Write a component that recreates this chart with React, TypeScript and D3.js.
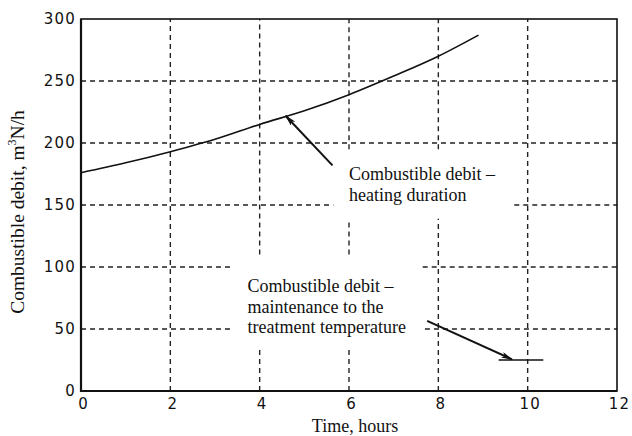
import React, { useEffect, useRef } from 'react';
import * as d3 from 'd3';

// heating duration curve (hours, m3N/h)
const heatHours = [0, 1, 2, 3, 4, 5, 6, 7, 8, 8.9];
const heatDebit = [176, 184, 193, 203, 215, 226, 239, 254, 270, 287];

// maintenance segment
const maintHours = [9.35, 10.35];
const maintDebit = [25, 25];

const xTicks = [0, 2, 4, 6, 8, 10, 12];
const yTicks = [0, 50, 100, 150, 200, 250, 300];

// gridline gaps (in data units) where annotation text sits
const vGaps: { [k: number]: [number, number][] } = {
  4: [[34, 110]],
  6: [[34, 110], [139, 195]],
  8: [[139, 195]],
};
const hGaps: { [k: number]: [number, number][] } = {
  150: [[5.65, 9.7]],
  100: [[3.4, 7.65]],
  50: [[3.4, 7.7]],
};

const notes = [
  { x: 6.0, y: 170, lines: ['Combustible debit –', 'heating duration'] },
  { x: 3.73, y: 80, lines: ['Combustible debit –', 'maintenance to the', 'treatment temperature'] },
];

const arrows = [
  { from: [5.63, 182], to: [4.58, 222] },
  { from: [7.75, 56.5], to: [9.65, 25.5] },
];

const W = 632;
const H = 436;
const margin = { top: 19, right: 15, bottom: 45, left: 81 };

export default function App() {
  const svgRef = useRef<SVGSVGElement>(null);

  useEffect(() => {
    if (!svgRef.current) return;
    const svg = d3.select(svgRef.current);
    svg.html('');

    const x = d3.scaleLinear().domain([0, 12]).range([margin.left, W - margin.right]);
    const y = d3.scaleLinear().domain([0, 300]).range([H - margin.bottom, margin.top]);

    const defs = svg.append('defs');
    defs.append('marker')
      .attr('id', 'arrowhead')
      .attr('viewBox', '0 0 12 6')
      .attr('refX', 11)
      .attr('refY', 3)
      .attr('markerWidth', 12)
      .attr('markerHeight', 6)
      .attr('markerUnits', 'userSpaceOnUse')
      .attr('orient', 'auto')
      .append('path')
      .attr('d', 'M0,0 L12,3 L0,6 L3,3 Z')
      .attr('fill', '#111');

    const grid = svg.append('g')
      .attr('stroke', '#222')
      .attr('stroke-width', 1.4)
      .attr('stroke-dasharray', '5,4');

    // split a [a,b] range by gaps
    const pieces = (a: number, b: number, gaps: [number, number][] = []) => {
      const out: [number, number][] = [];
      let start = a;
      gaps.forEach(([g0, g1]) => {
        out.push([start, g0]);
        start = g1;
      });
      out.push([start, b]);
      return out;
    };

    xTicks.slice(1, -1).forEach(t => {
      pieces(0, 300, vGaps[t]).forEach(([a, b]) => {
        grid.append('line')
          .attr('x1', x(t)).attr('x2', x(t))
          .attr('y1', y(a)).attr('y2', y(b));
      });
    });
    yTicks.slice(1, -1).forEach(t => {
      pieces(0, 12, hGaps[t]).forEach(([a, b]) => {
        grid.append('line')
          .attr('x1', x(a)).attr('x2', x(b))
          .attr('y1', y(t)).attr('y2', y(t));
      });
    });

    // frame
    svg.append('rect')
      .attr('x', x(0)).attr('y', y(300))
      .attr('width', x(12) - x(0)).attr('height', y(0) - y(300))
      .attr('fill', 'none').attr('stroke', '#111').attr('stroke-width', 1.6);
    svg.append('path')
      .attr('d', `M${x(0)},${y(300)} V${y(0)} H${x(12)}`)
      .attr('fill', 'none').attr('stroke', '#111').attr('stroke-width', 2.2);

    const tickFont = (g: d3.Selection<SVGGElement, unknown, null, undefined>) => {
      g.select('.domain').remove();
      g.selectAll('text')
        .attr('font-family', '"DejaVu Sans", sans-serif')
        .attr('font-size', 15)
        .attr('letter-spacing', 1.2)
        .attr('fill', '#111');
    };

    svg.append('g')
      .attr('transform', `translate(2,${y(0) + 2})`)
      .call(d3.axisBottom(x).tickValues(xTicks).tickSize(0).tickPadding(5).tickFormat(d3.format('d')))
      .call(tickFont);

    svg.append('g')
      .attr('transform', `translate(${x(0) - 3},0)`)
      .call(d3.axisLeft(y).tickValues(yTicks).tickSize(0).tickPadding(2).tickFormat(d3.format('d')))
      .call(tickFont);

    const serif = '"Liberation Serif", Tinos, "Times New Roman", Times, serif';

    // curves
    const line = d3.line<[number, number]>()
      .x(d => x(d[0]))
      .y(d => y(d[1]))
      .curve(d3.curveMonotoneX);

    svg.append('path')
      .datum(heatHours.map((h, i) => [h, heatDebit[i]] as [number, number]))
      .attr('d', line)
      .attr('fill', 'none')
      .attr('stroke', '#111')
      .attr('stroke-width', 1.6);

    svg.append('path')
      .datum(maintHours.map((h, i) => [h, maintDebit[i]] as [number, number]))
      .attr('d', line)
      .attr('fill', 'none')
      .attr('stroke', '#111')
      .attr('stroke-width', 1.4);

    // arrows
    arrows.forEach(a => {
      svg.append('line')
        .attr('x1', x(a.from[0])).attr('y1', y(a.from[1]))
        .attr('x2', x(a.to[0])).attr('y2', y(a.to[1]))
        .attr('stroke', '#111')
        .attr('stroke-width', 2)
        .attr('marker-end', 'url(#arrowhead)');
    });

    // annotations
    notes.forEach(n => {
      const t = svg.append('text')
        .attr('x', x(n.x))
        .attr('y', y(n.y))
        .style('font-family', serif)
        .attr('font-size', 18)
        .attr('fill', '#111');
      n.lines.forEach((l, i) => {
        t.append('tspan')
          .attr('x', x(n.x))
          .attr('dy', i === 0 ? 0 : 20.8)
          .text(l);
      });
    });

    // axis titles
    svg.append('text')
      .attr('x', 355)
      .attr('y', H - 4)
      .attr('text-anchor', 'middle')
      .style('font-family', serif)
      .attr('font-size', 18)
      .attr('fill', '#111')
      .text('Time, hours');

    const yt = svg.append('text')
      .attr('transform', `translate(24,${(y(0) + y(300)) / 2 + 7}) rotate(-90)`)
      .attr('text-anchor', 'middle')
      .style('font-family', serif)
      .attr('font-size', 19.5)
      .attr('fill', '#111');
    yt.append('tspan').text('Combustible debit, m');
    yt.append('tspan').attr('font-size', 12).attr('dy', -8).text('3');
    yt.append('tspan').attr('dy', 8).text('N/h');
  }, []);

  return (
    <div style={{ position: 'fixed', left: 0, top: 0, background: '#fff' }}>
      <svg ref={svgRef} width={W} height={H} style={{ display: 'block' }} />
    </div>
  );
}
